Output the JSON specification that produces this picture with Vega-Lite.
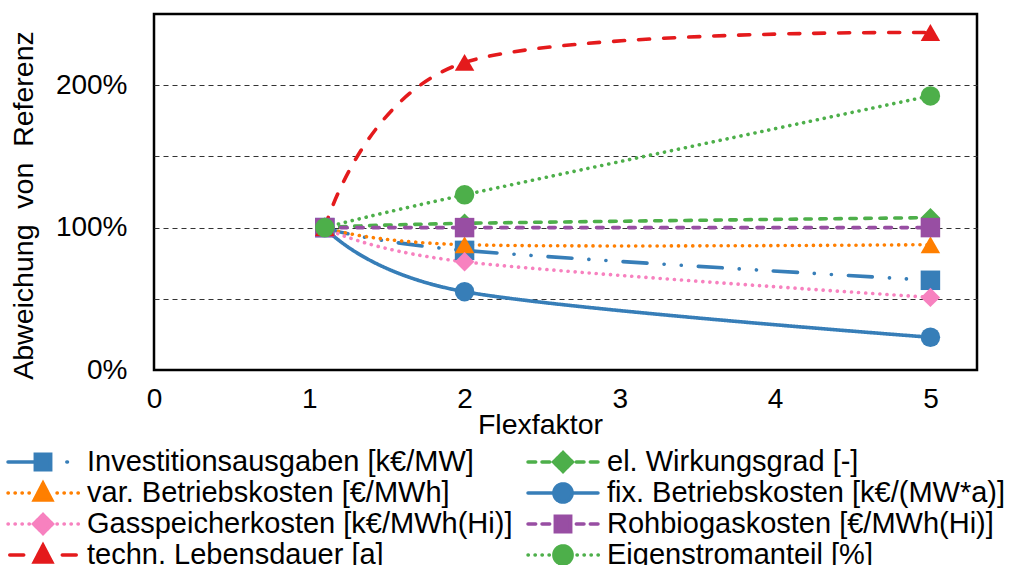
{
  "$schema": "https://vega.github.io/schema/vega-lite/v6.json",
  "width": 823,
  "height": 356,
  "autosize": {"type": "none"},
  "padding": {"left": 154, "top": 14, "right": 33, "bottom": 195},
  "background": "white",
  "config": {
    "font": "Liberation Sans",
    "view": {"stroke": "#000", "strokeWidth": 2.5},
    "axis": {"labelFont": "Liberation Sans", "titleFont": "Liberation Sans", "labelColor": "#000", "titleColor": "#000", "titleFontWeight": "normal"}
  },
  "data": {
    "values": [
      {"s": "Investitionsausgaben [k€/MW]", "x": 1.1, "y": 1.0},
      {"s": "Investitionsausgaben [k€/MW]", "x": 2, "y": 0.84},
      {"s": "Investitionsausgaben [k€/MW]", "x": 5, "y": 0.63},
      {"s": "el. Wirkungsgrad [-]", "x": 1.1, "y": 1.0},
      {"s": "el. Wirkungsgrad [-]", "x": 2, "y": 1.03},
      {"s": "el. Wirkungsgrad [-]", "x": 5, "y": 1.07},
      {"s": "var. Betriebskosten [€/MWh]", "x": 1.1, "y": 1.0},
      {"s": "var. Betriebskosten [€/MWh]", "x": 2, "y": 0.88},
      {"s": "var. Betriebskosten [€/MWh]", "x": 5, "y": 0.88},
      {"s": "fix. Betriebskosten [k€/(MW*a)]", "x": 1.1, "y": 1.0},
      {"s": "fix. Betriebskosten [k€/(MW*a)]", "x": 2, "y": 0.55},
      {"s": "fix. Betriebskosten [k€/(MW*a)]", "x": 5, "y": 0.23},
      {"s": "Gasspeicherkosten [k€/MWh(Hi)]", "x": 1.1, "y": 1.0},
      {"s": "Gasspeicherkosten [k€/MWh(Hi)]", "x": 2, "y": 0.76},
      {"s": "Gasspeicherkosten [k€/MWh(Hi)]", "x": 5, "y": 0.51},
      {"s": "Rohbiogaskosten [€/MWh(Hi)]", "x": 1.1, "y": 1.0},
      {"s": "Rohbiogaskosten [€/MWh(Hi)]", "x": 2, "y": 1.0},
      {"s": "Rohbiogaskosten [€/MWh(Hi)]", "x": 5, "y": 1.0},
      {"s": "techn. Lebensdauer [a]", "x": 1.1, "y": 1.0},
      {"s": "techn. Lebensdauer [a]", "x": 2, "y": 2.16},
      {"s": "techn. Lebensdauer [a]", "x": 5, "y": 2.37},
      {"s": "Eigenstromanteil [%]", "x": 1.1, "y": 1.0},
      {"s": "Eigenstromanteil [%]", "x": 2, "y": 1.23},
      {"s": "Eigenstromanteil [%]", "x": 5, "y": 1.925}
    ]
  },
  "encoding": {
    "x": {
      "field": "x", "type": "quantitative",
      "scale": {"domain": [0, 5.3], "nice": false, "zero": false},
      "axis": {
        "values": [0, 1, 2, 3, 4, 5], "grid": false, "domain": false, "ticks": false, "tickSize": 0,
        "labelFontSize": 28, "labelPadding": 37, "labelBaseline": "alphabetic", "labelFlush": false,
        "title": "Flexfaktor", "titleFontSize": 28.5, "titleX": 386, "titleY": 63, "titleBaseline": "alphabetic", "titleAlign": "center"
      }
    },
    "y": {
      "field": "y", "type": "quantitative",
      "scale": {"domain": [0, 2.5], "nice": false},
      "axis": {
        "values": [0, 0.5, 1, 1.5, 2], "format": ".0%",
        "labelExpr": "datum.value == 0 || datum.value == 1 || datum.value == 2 ? datum.label : ''",
        "grid": true, "gridDash": [5, 4], "gridColor": "#333", "gridWidth": 1.2,
        "gridOpacity": {"condition": {"test": "datum.value == 0", "value": 0}, "value": 1},
        "domain": false, "ticks": false, "tickSize": 0,
        "labelFontSize": 28, "labelPadding": 27, "labelFlush": false,
        "title": "Abweichung\u00a0 von\u00a0 Referenz", "titleFontSize": 28.5, "titleAngle": 270, "titleX": -122, "titleY": 191, "titleBaseline": "alphabetic", "titleAlign": "center"
      }
    },
    "color": {
      "field": "s", "type": "nominal",
      "scale": {
        "domain": ["Investitionsausgaben [k€/MW]", "el. Wirkungsgrad [-]", "var. Betriebskosten [€/MWh]", "fix. Betriebskosten [k€/(MW*a)]", "Gasspeicherkosten [k€/MWh(Hi)]", "Rohbiogaskosten [€/MWh(Hi)]", "techn. Lebensdauer [a]", "Eigenstromanteil [%]"],
        "range": ["#377eb8", "#4daf4a", "#ff7f00", "#377eb8", "#f781bf", "#984ea3", "#e41a1c", "#4daf4a"]
      },
      "legend": {
        "orient": "none", "legendX": -148, "legendY": 433, "columns": 2, "direction": "horizontal", "title": null, "padding": 0,
        "symbolSize": 4900, "symbolStrokeWidth": 3.5, "symbolOffset": 0,
        "labelFontSize": 29, "labelFont": "Liberation Sans", "labelColor": "#000", "labelOffset": 7, "labelLimit": 700,
        "columnPadding": 13, "rowPadding": 1, "clipHeight": 30,
        "encode": {
          "symbols": {
            "update": {
              "shape": {"signal": "['M-1,0H-0.25M0.68,0H0.7M-0.22,-0.22H0.22V0.22H-0.22Z', 'M-1,0H-0.78M-0.6,0H-0.38M0.38,0H0.6M0.78,0H1M0,-0.27L0.27,0L0,0.27L-0.27,0Z', 'M-1,0h0.01M-0.8,0h0.01M-0.6,0h0.01M-0.4,0h0.01M0.4,0h0.01M0.6,0h0.01M0.8,0h0.01M1,0h0.01M0,-0.28L0.25,0.2L-0.25,0.2Z', 'M-1,0H-0.3M0.3,0H1M-0.26,0A0.26,0.26 0 1,0 0.26,0A0.26,0.26 0 1,0 -0.26,0Z', 'M-1,0h0.01M-0.8,0h0.01M-0.6,0h0.01M-0.4,0h0.01M0.4,0h0.01M0.6,0h0.01M0.8,0h0.01M1,0h0.01M0,-0.27L0.27,0L0,0.27L-0.27,0Z', 'M-1,0H-0.78M-0.6,0H-0.38M0.38,0H0.6M0.78,0H1M-0.22,-0.22H0.22V0.22H-0.22Z', 'M-0.95,0H-0.55M0.55,0H0.95M0,-0.28L0.25,0.2L-0.25,0.2Z', 'M-1,0h0.01M-0.8,0h0.01M-0.6,0h0.01M-0.4,0h0.01M0.4,0h0.01M0.6,0h0.01M0.8,0h0.01M1,0h0.01M-0.26,0A0.26,0.26 0 1,0 0.26,0A0.26,0.26 0 1,0 -0.26,0Z'][datum.index]"},
              "fill": {"signal": "['#377eb8', '#4daf4a', '#ff7f00', '#377eb8', '#f781bf', '#984ea3', '#e41a1c', '#4daf4a'][datum.index]"},
              "stroke": {"signal": "['#377eb8', '#4daf4a', '#ff7f00', '#377eb8', '#f781bf', '#984ea3', '#e41a1c', '#4daf4a'][datum.index]"},
              "strokeWidth": {"value": 3.5},
              "strokeCap": {"value": "round"},
              "strokeDash": {"value": [1, 0]},
              "opacity": {"value": 1},
              "fillOpacity": {"value": 1}
            }
          }
        }
      }
    }
  },
  "layer": [
    {
      "mark": {"type": "line", "interpolate": "cardinal", "tension": 0, "strokeCap": "round", "strokeWidth": 3.6},
      "encoding": {
        "strokeDash": {
          "field": "s", "type": "nominal", "legend": null,
          "scale": {
            "domain": ["Eigenstromanteil [%]", "techn. Lebensdauer [a]", "Rohbiogaskosten [€/MWh(Hi)]", "Gasspeicherkosten [k€/MWh(Hi)]", "fix. Betriebskosten [k€/(MW*a)]", "var. Betriebskosten [€/MWh]", "el. Wirkungsgrad [-]", "Investitionsausgaben [k€/MW]"],
            "range": [[0.1, 7], [11, 14], [6.5, 9.5], [0.1, 7], [1, 0], [0.1, 7], [6.5, 8.5], [24, 17, 0.1, 17, 0.1, 17]]
          }
        }
      }
    },
    {
      "mark": {"type": "point", "filled": true, "opacity": 1, "size": 380},
      "encoding": {
        "shape": {
          "field": "s", "type": "nominal", "legend": null,
          "scale": {
            "domain": ["Eigenstromanteil [%]", "techn. Lebensdauer [a]", "Rohbiogaskosten [€/MWh(Hi)]", "Gasspeicherkosten [k€/MWh(Hi)]", "fix. Betriebskosten [k€/(MW*a)]", "var. Betriebskosten [€/MWh]", "el. Wirkungsgrad [-]", "Investitionsausgaben [k€/MW]"],
            "range": ["circle", "triangle-up", "square", "diamond", "circle", "triangle-up", "diamond", "square"]
          }
        }
      }
    }
  ]
}
